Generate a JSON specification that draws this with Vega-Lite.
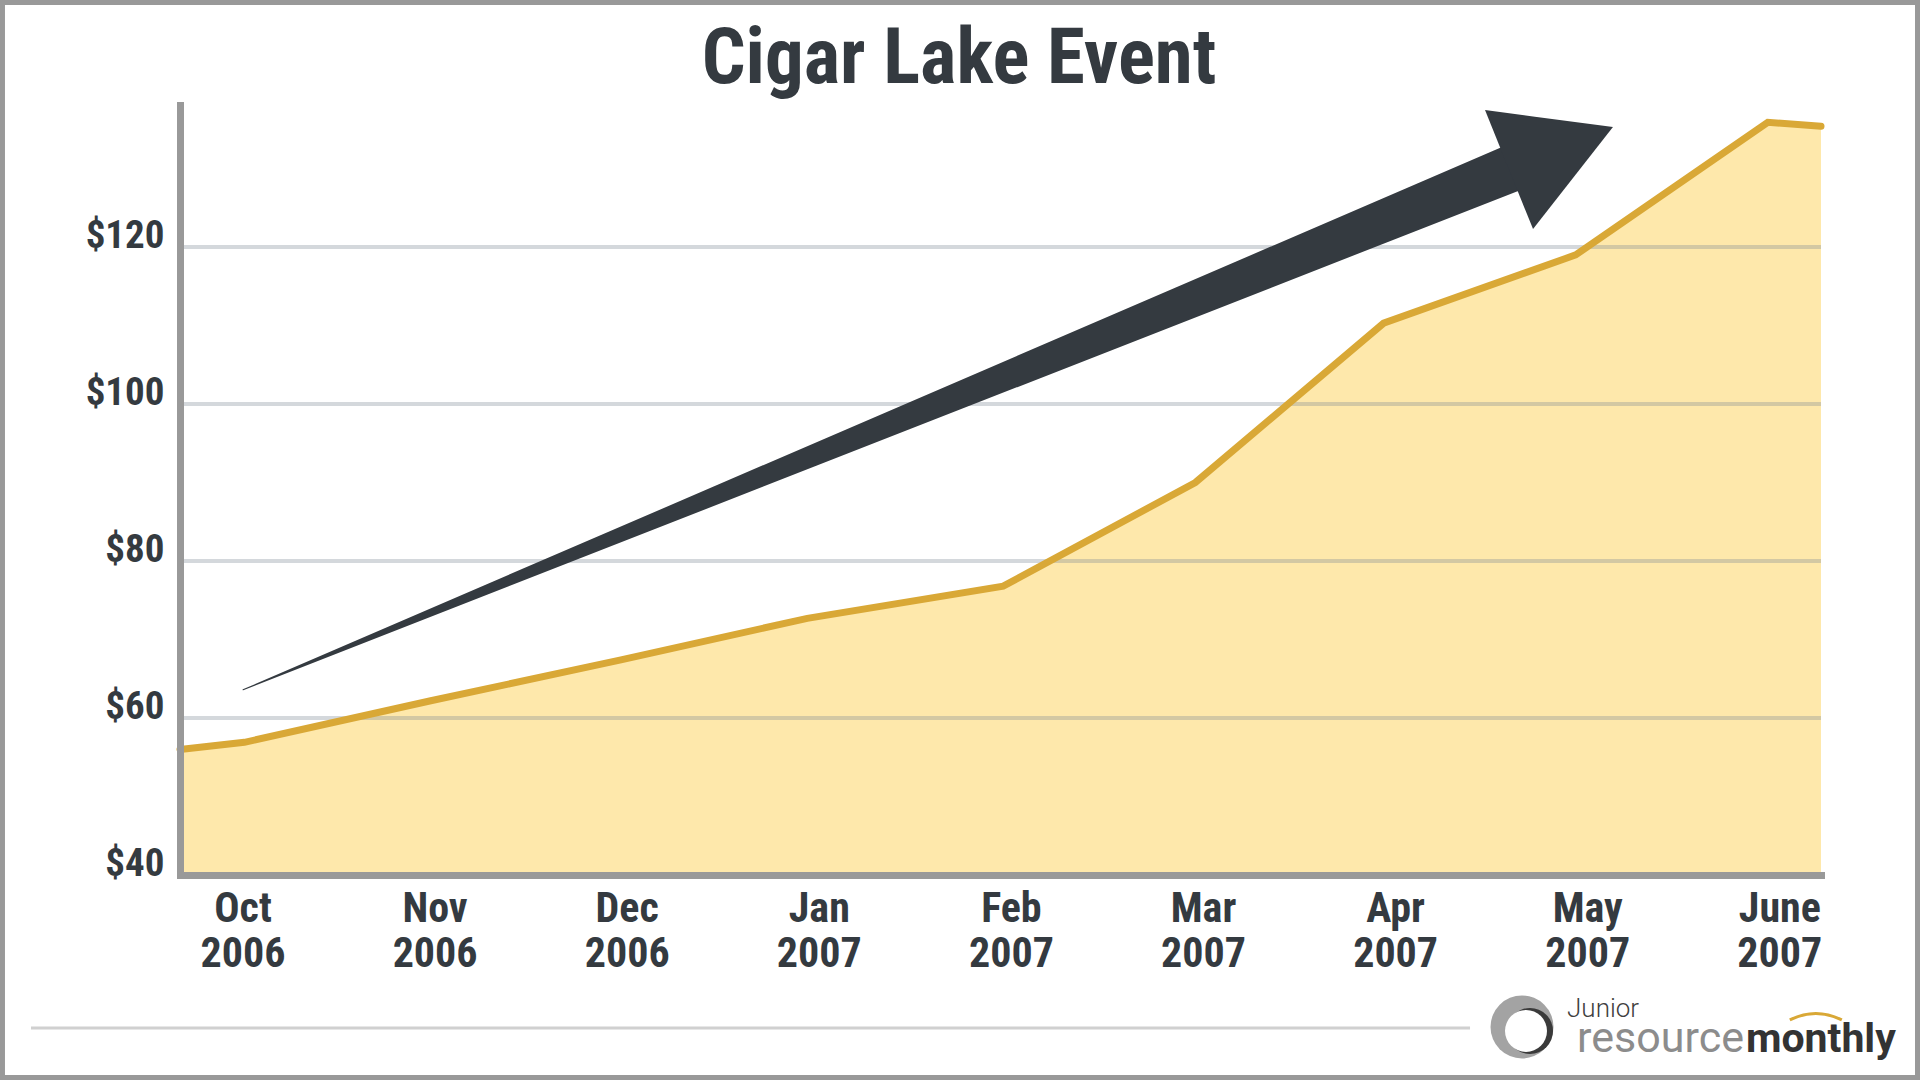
{
  "$schema": "https://vega.github.io/schema/vega-lite/v6.json",
  "width": 1641,
  "height": 770,
  "autosize": {"type": "none"},
  "padding": {"left": 180, "top": 105, "right": 99, "bottom": 205},
  "background": "white",
  "datasets": {
    "price": [
      {"m": -0.3253, "price": 56.0},
      {"m": 0.01, "price": 56.9},
      {"m": 0.98, "price": 62.2},
      {"m": 1.97, "price": 67.4},
      {"m": 2.94, "price": 72.7},
      {"m": 3.96, "price": 76.8},
      {"m": 4.96, "price": 90.0},
      {"m": 5.94, "price": 110.3},
      {"m": 6.94, "price": 119.0},
      {"m": 7.94, "price": 135.9},
      {"m": 8.217, "price": 135.4}
    ],
    "arrow": [
      {"m": 0.003, "price": 63.6, "w": 0},
      {"m": 6.624, "price": 130.2, "w": 1}
    ],
    "head": [
      {"m": 6.468, "price": 137.45, "price2": 137.45},
      {"m": 6.718, "price": 136.64, "price2": 122.29},
      {"m": 7.134, "price": 135.29, "price2": 135.29}
    ],
    "grid": [
      {"price": 60},
      {"price": 80},
      {"price": 100},
      {"price": 120}
    ]
  },
  "layer": [
    {
      "data": {"name": "price"},
      "mark": {"type": "area", "color": "#fee8ab"},
      "encoding": {
        "x": {
          "field": "m",
          "type": "quantitative",
          "scale": {"domain": [-0.3253, 8.217], "nice": false, "zero": false},
          "axis": {
            "values": [0, 1, 2, 3, 4, 5, 6, 7, 8],
            "labelExpr": "[['Oct','Nov','Dec','Jan','Feb','Mar','Apr','May','June'][datum.value], datum.value < 3 ? '2006' : '2007']",
            "title": null,
            "grid": false,
            "ticks": false,
            "tickSize": 0,
            "labelPadding": 13,
            "labelFontSize": 42,
            "labelLineHeight": 45,
            "labelBaseline": "top",
            "labelAlign": "center",
            "labelFlush": false,
            "labelOverlap": false,
            "labelBound": false,
            "domainColor": "#999999",
            "domainWidth": 7,
            "domainCap": "square",
            "zindex": 1
          }
        },
        "y": {
          "field": "price",
          "type": "quantitative",
          "scale": {"domain": [40, 138.1], "nice": false, "zero": false},
          "axis": {
            "values": [40, 60, 80, 100, 120],
            "format": "$d",
            "title": null,
            "grid": false,
            "ticks": false,
            "tickSize": 0,
            "labelPadding": 16,
            "labelFontSize": 39,
            "labelBaseline": "alphabetic",
            "labelAlign": "right",
            "labelFlush": false,
            "labelOverlap": false,
            "domainColor": "#999999",
            "domainWidth": 7,
            "domainCap": "square",
            "zindex": 1
          }
        },
        "y2": {"datum": 40}
      }
    },
    {
      "data": {"name": "grid"},
      "mark": {"type": "rule", "color": "#7d8a94", "opacity": 0.33, "strokeWidth": 4},
      "encoding": {
        "y": {"field": "price", "type": "quantitative", "scale": {"domain": [40, 138.1], "nice": false, "zero": false}}
      }
    },
    {
      "data": {"name": "price"},
      "mark": {"type": "line", "color": "#d9a836", "strokeWidth": 7, "strokeCap": "round"},
      "encoding": {
        "x": {"field": "m", "type": "quantitative", "scale": {"domain": [-0.3253, 8.217], "nice": false, "zero": false}},
        "y": {"field": "price", "type": "quantitative", "scale": {"domain": [40, 138.1], "nice": false, "zero": false}}
      }
    },
    {
      "data": {"name": "arrow"},
      "mark": {"type": "trail", "color": "#343a40"},
      "encoding": {
        "x": {"field": "m", "type": "quantitative", "scale": {"domain": [-0.3253, 8.217], "nice": false, "zero": false}},
        "y": {"field": "price", "type": "quantitative", "scale": {"domain": [40, 138.1], "nice": false, "zero": false}},
        "size": {"field": "w", "type": "quantitative", "scale": {"domain": [0, 1], "range": [0, 47]}, "legend": null}
      }
    },
    {
      "data": {"name": "head"},
      "mark": {"type": "area", "color": "#343a40"},
      "encoding": {
        "x": {"field": "m", "type": "quantitative", "scale": {"domain": [-0.3253, 8.217], "nice": false, "zero": false}},
        "y": {"field": "price", "type": "quantitative", "scale": {"domain": [40, 138.1], "nice": false, "zero": false}},
        "y2": {"field": "price2"}
      }
    },
    {
      "data": {"values": [{}]},
      "mark": {"type": "text", "text": "Cigar Lake Event", "font": "Roboto Condensed, Roboto", "fontSize": 77, "fontWeight": "bold", "color": "#343a40", "align": "center", "baseline": "alphabetic"},
      "encoding": {
        "x": {"datum": 3.7298, "type": "quantitative", "scale": {"domain": [-0.3253, 8.217], "nice": false, "zero": false}},
        "y": {"datum": 140.89, "type": "quantitative", "scale": {"domain": [40, 138.1], "nice": false, "zero": false}}
      }
    },
    {
      "data": {"values": [{}]},
      "mark": {"type": "rect", "fillOpacity": 0, "stroke": "#999999", "strokeWidth": 5},
      "encoding": {
        "x": {"datum": -1.2494, "type": "quantitative", "scale": {"domain": [-0.3253, 8.217], "nice": false, "zero": false}},
        "x2": {"datum": 8.7194},
        "y": {"datum": 151.15, "type": "quantitative", "scale": {"domain": [40, 138.1], "nice": false, "zero": false}},
        "y2": {"datum": 14.204}
      }
    },
    {
      "data": {"values": [{}]},
      "mark": {"type": "rule", "color": "#d0d0d0", "strokeWidth": 3},
      "encoding": {
        "x": {"datum": -1.101, "type": "quantitative", "scale": {"domain": [-0.3253, 8.217], "nice": false, "zero": false}},
        "x2": {"datum": 6.39},
        "y": {"datum": 20.51, "type": "quantitative", "scale": {"domain": [40, 138.1], "nice": false, "zero": false}}
      }
    },
    {
      "data": {"values": [{}]},
      "mark": {"type": "point", "shape": "circle", "filled": true, "color": "#a3a3a3", "opacity": 1, "size": 3969},
      "encoding": {
        "x": {"datum": 6.6606, "type": "quantitative", "scale": {"domain": [-0.3253, 8.217], "nice": false, "zero": false}},
        "y": {"datum": 20.64, "type": "quantitative", "scale": {"domain": [40, 138.1], "nice": false, "zero": false}}
      }
    },
    {
      "data": {"values": [{}]},
      "mark": {"type": "point", "shape": "circle", "filled": true, "color": "#3a3a3a", "opacity": 1, "size": 2116},
      "encoding": {
        "x": {"datum": 6.7023, "type": "quantitative", "scale": {"domain": [-0.3253, 8.217], "nice": false, "zero": false}},
        "y": {"datum": 20.13, "type": "quantitative", "scale": {"domain": [40, 138.1], "nice": false, "zero": false}}
      }
    },
    {
      "data": {"values": [{}]},
      "mark": {"type": "point", "shape": "circle", "filled": true, "color": "#ffffff", "opacity": 1, "size": 1764},
      "encoding": {
        "x": {"datum": 6.6814, "type": "quantitative", "scale": {"domain": [-0.3253, 8.217], "nice": false, "zero": false}},
        "y": {"datum": 20.13, "type": "quantitative", "scale": {"domain": [40, 138.1], "nice": false, "zero": false}}
      }
    },
    {
      "data": {"values": [{}]},
      "mark": {"type": "point", "shape": "M -1 0.2 Q 0 -0.3 1 0.2", "filled": false, "color": "#d9a836", "strokeWidth": 3, "opacity": 1, "size": 2704},
      "encoding": {
        "x": {"datum": 8.19, "type": "quantitative", "scale": {"domain": [-0.3253, 8.217], "nice": false, "zero": false}},
        "y": {"datum": 22.2, "type": "quantitative", "scale": {"domain": [40, 138.1], "nice": false, "zero": false}}
      }
    },
    {
      "data": {"values": [{}]},
      "mark": {"type": "text", "text": "Junior", "font": "Roboto", "fontSize": 26, "fontWeight": 300, "color": "#404040", "align": "left", "baseline": "alphabetic"},
      "encoding": {
        "x": {"datum": 6.895, "type": "quantitative", "scale": {"domain": [-0.3253, 8.217], "nice": false, "zero": false}},
        "y": {"datum": 21.85, "type": "quantitative", "scale": {"domain": [40, 138.1], "nice": false, "zero": false}}
      }
    },
    {
      "data": {"values": [{}]},
      "mark": {"type": "text", "text": "resource", "font": "Roboto", "fontSize": 43, "fontWeight": 400, "color": "#8c8c8c", "align": "right", "baseline": "alphabetic"},
      "encoding": {
        "x": {"datum": 7.816, "type": "quantitative", "scale": {"domain": [-0.3253, 8.217], "nice": false, "zero": false}},
        "y": {"datum": 17.45, "type": "quantitative", "scale": {"domain": [40, 138.1], "nice": false, "zero": false}}
      }
    },
    {
      "data": {"values": [{}]},
      "mark": {"type": "text", "text": "monthly", "font": "Roboto", "fontSize": 41, "fontWeight": "bold", "color": "#333333", "align": "left", "baseline": "alphabetic"},
      "encoding": {
        "x": {"datum": 7.826, "type": "quantitative", "scale": {"domain": [-0.3253, 8.217], "nice": false, "zero": false}},
        "y": {"datum": 17.45, "type": "quantitative", "scale": {"domain": [40, 138.1], "nice": false, "zero": false}}
      }
    }
  ],
  "config": {
    "view": {"stroke": null},
    "axis": {
      "labelFont": "Roboto Condensed, Roboto",
      "labelFontWeight": "bold",
      "labelColor": "#343a40"
    }
  }
}
